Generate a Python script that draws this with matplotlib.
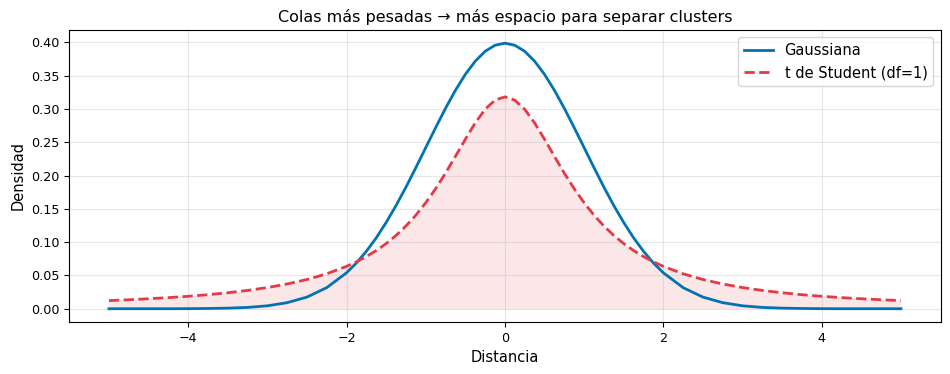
import matplotlib
matplotlib.use('Agg')
import matplotlib.pyplot as plt
import numpy as np

# valores (lado positivo, la curva es simétrica)
x_half = [0.0, 0.125, 0.25, 0.375, 0.5, 0.625, 0.75, 0.875, 1.0, 1.125, 1.25, 1.375,
          1.5, 1.625, 1.75, 1.875, 2.0, 2.25, 2.5, 2.75, 3.0, 3.25, 3.5, 3.75,
          4.0, 4.25, 4.5, 4.75, 5.0]
gauss_half = [0.3989, 0.3958, 0.3867, 0.3718, 0.3521, 0.3281, 0.3011, 0.2720, 0.2420,
              0.2119, 0.1826, 0.1550, 0.1295, 0.1065, 0.0863, 0.0688, 0.0540, 0.0317,
              0.0175, 0.0091, 0.0044, 0.0020, 0.0009, 0.0004, 0.0001, 0.0000, 0.0000,
              0.0000, 0.0000]
student_half = [0.3183, 0.3134, 0.2996, 0.2791, 0.2546, 0.2289, 0.2037, 0.1803, 0.1592,
                0.1405, 0.1242, 0.1101, 0.0979, 0.0874, 0.0784, 0.0705, 0.0637, 0.0525,
                0.0439, 0.0372, 0.0318, 0.0275, 0.0240, 0.0211, 0.0187, 0.0167, 0.0150,
                0.0135, 0.0122]

x = np.concatenate([-np.array(x_half[:0:-1]), x_half])
gauss = np.concatenate([gauss_half[:0:-1], gauss_half])
student = np.concatenate([student_half[:0:-1], student_half])

fig, ax = plt.subplots(figsize=(9.5, 3.74), dpi=100)
fig.subplots_adjust(left=0.073, right=0.99, top=0.92, bottom=0.139)

ax.plot(x, gauss, color='#0173B2', lw=2, label='Gaussiana')
ax.plot(x, student, color='#E63946', lw=2, ls='--', label='t de Student (df=1)')
ax.fill_between(x, student, color='#E63946', alpha=0.12, lw=0)

ax.set_title('Colas más pesadas → más espacio para separar clusters', fontsize=11.5)
ax.set_xlabel('Distancia', fontsize=10.5)
ax.set_ylabel('Densidad', fontsize=10.5)
ax.set_yticks(np.arange(0, 0.41, 0.05))
ax.set_yticklabels([f'{v:.2f}' for v in np.arange(0, 0.41, 0.05)])
ax.tick_params(labelsize=9.2)
ax.grid(True, alpha=0.3)
ax.legend(loc='upper right', fontsize=10.5)

plt.savefig('out.png', dpi=100)
